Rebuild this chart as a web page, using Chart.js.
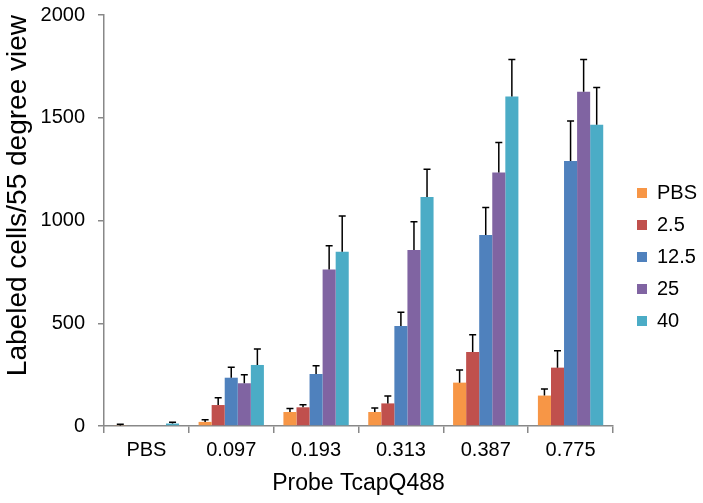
<!DOCTYPE html>
<html>
<head>
<meta charset="utf-8">
<script src="https://cdn.jsdelivr.net/npm/chart.js@4/dist/chart.umd.min.js"></script>
<style>
html,body{margin:0;padding:0;background:#fff;}
#wrap{width:703px;height:503px;}
</style>
</head>
<body>
<div id="wrap"><canvas id="c" width="703" height="503"></canvas></div>
<script>
const categories = ['PBS', '0.097', '0.193', '0.313', '0.387', '0.775'];
const seriesNames = ['PBS', '2.5', '12.5', '25', '40'];
const valsPBS  = [3, 20, 68, 68, 211, 148];
const errPBS   = [5, 10, 17, 20, 61, 32];
const vals2_5  = [0, 102, 91, 110, 360, 284];
const err2_5   = [0, 36, 13, 36, 84, 82];
const vals12_5 = [0, 235, 253, 487, 929, 1290];
const err12_5  = [0, 51, 40, 66, 134, 194];
const vals25   = [0, 208, 762, 856, 1233, 1627];
const err25    = [0, 42, 115, 138, 147, 157];
const vals40   = [12, 297, 848, 1114, 1603, 1466];
const err40    = [6, 78, 174, 135, 181, 181];
const yTicks   = [0, 500, 1000, 1500, 2000];
const colors   = ['#F79646', '#C0504D', '#4F81BD', '#8064A2', '#4BACC6'];

const allVals = [valsPBS, vals2_5, vals12_5, vals25, vals40];
const allErrs = [errPBS, err2_5, err12_5, err25, err40];

const FONT = '"Liberation Sans", Arial, sans-serif';
const AXIS = '#888888';

const errorBars = {
  id: 'errorBars',
  afterDatasetsDraw(chart) {
    const ctx = chart.ctx;
    const yScale = chart.scales.y;
    ctx.save();
    ctx.strokeStyle = '#000';
    ctx.lineWidth = 1.5;
    chart.data.datasets.forEach((ds, di) => {
      const meta = chart.getDatasetMeta(di);
      meta.data.forEach((bar, i) => {
        const e = ds.errors[i];
        if (!e) return;
        const x = bar.x;
        const y0 = bar.y;
        const y1 = yScale.getPixelForValue(ds.data[i] + e);
        ctx.beginPath();
        ctx.moveTo(x, y0);
        ctx.lineTo(x, y1);
        ctx.moveTo(x - 3.5, y1);
        ctx.lineTo(x + 3.5, y1);
        ctx.stroke();
      });
    });
    ctx.restore();
  }
};

// give the legend extra room on its left so its items sit further right
const LEGEND_GAP = 12;
const legendShift = {
  id: 'legendShift',
  beforeLayout(chart) {
    const lg = chart.legend;
    if (lg && !lg._patched) {
      const origFit = lg.fit;
      lg.fit = function () { origFit.call(this); this.width += LEGEND_GAP; };
      const origDraw = lg.draw;
      lg.draw = function () {
        const ctx = this.ctx;
        ctx.save();
        ctx.translate(LEGEND_GAP, -2);
        origDraw.call(this);
        ctx.restore();
      };
      lg._patched = true;
    }
  }
};

new Chart(document.getElementById('c'), {
  type: 'bar',
  data: {
    labels: categories,
    datasets: seriesNames.map((n, k) => ({
      label: n,
      data: allVals[k],
      errors: allErrs[k],
      backgroundColor: colors[k],
      borderWidth: 0,
      categoryPercentage: 0.77,
      barPercentage: 1.0
    }))
  },
  plugins: [errorBars, legendShift],
  options: {
    responsive: false,
    animation: false,
    layout: { padding: { left: 1, right: -4, top: 15, bottom: 0 } },
    plugins: {
      tooltip: { enabled: false },
      legend: {
        position: 'right',
        align: 'center',
        labels: {
          boxWidth: 10,
          boxHeight: 10,
          padding: 12,
          color: '#000',
          font: { family: FONT, size: 20 }
        }
      }
    },
    scales: {
      x: {
        grid: { display: true, drawOnChartArea: false, offset: true, color: AXIS, lineWidth: 1.5, tickLength: 7 },
        border: { display: true, color: AXIS, width: 1.5 },
        ticks: { color: '#000', font: { family: FONT, size: 20 }, padding: 5 },
        title: { display: true, text: 'Probe TcapQ488', color: '#000', font: { family: FONT, size: 23 }, padding: { top: 2, bottom: 6 } },
        afterFit(s) { s.height = 77; s.paddingLeft = 0; s.paddingRight = 0; }
      },
      y: {
        min: 0, max: 2000,
        afterBuildTicks(s) { s.ticks = yTicks.map(v => ({ value: v })); },
        grid: { display: true, drawOnChartArea: false, color: AXIS, lineWidth: 1.5, tickLength: 6 },
        border: { display: true, color: AXIS, width: 1.5 },
        ticks: { color: '#000', font: { family: FONT, size: 20 }, padding: 13, callback: (v) => String(v) },
        title: { display: true, text: 'Labeled cells/55 degree view', align: 'end', color: '#000', font: { family: FONT, size: 28 }, padding: { top: 0, bottom: 5 } },
        afterFit(s) { s.width = 103; s.paddingTop = 0; s.paddingBottom = 0; }
      }
    }
  }
});
</script>
</body>
</html>
